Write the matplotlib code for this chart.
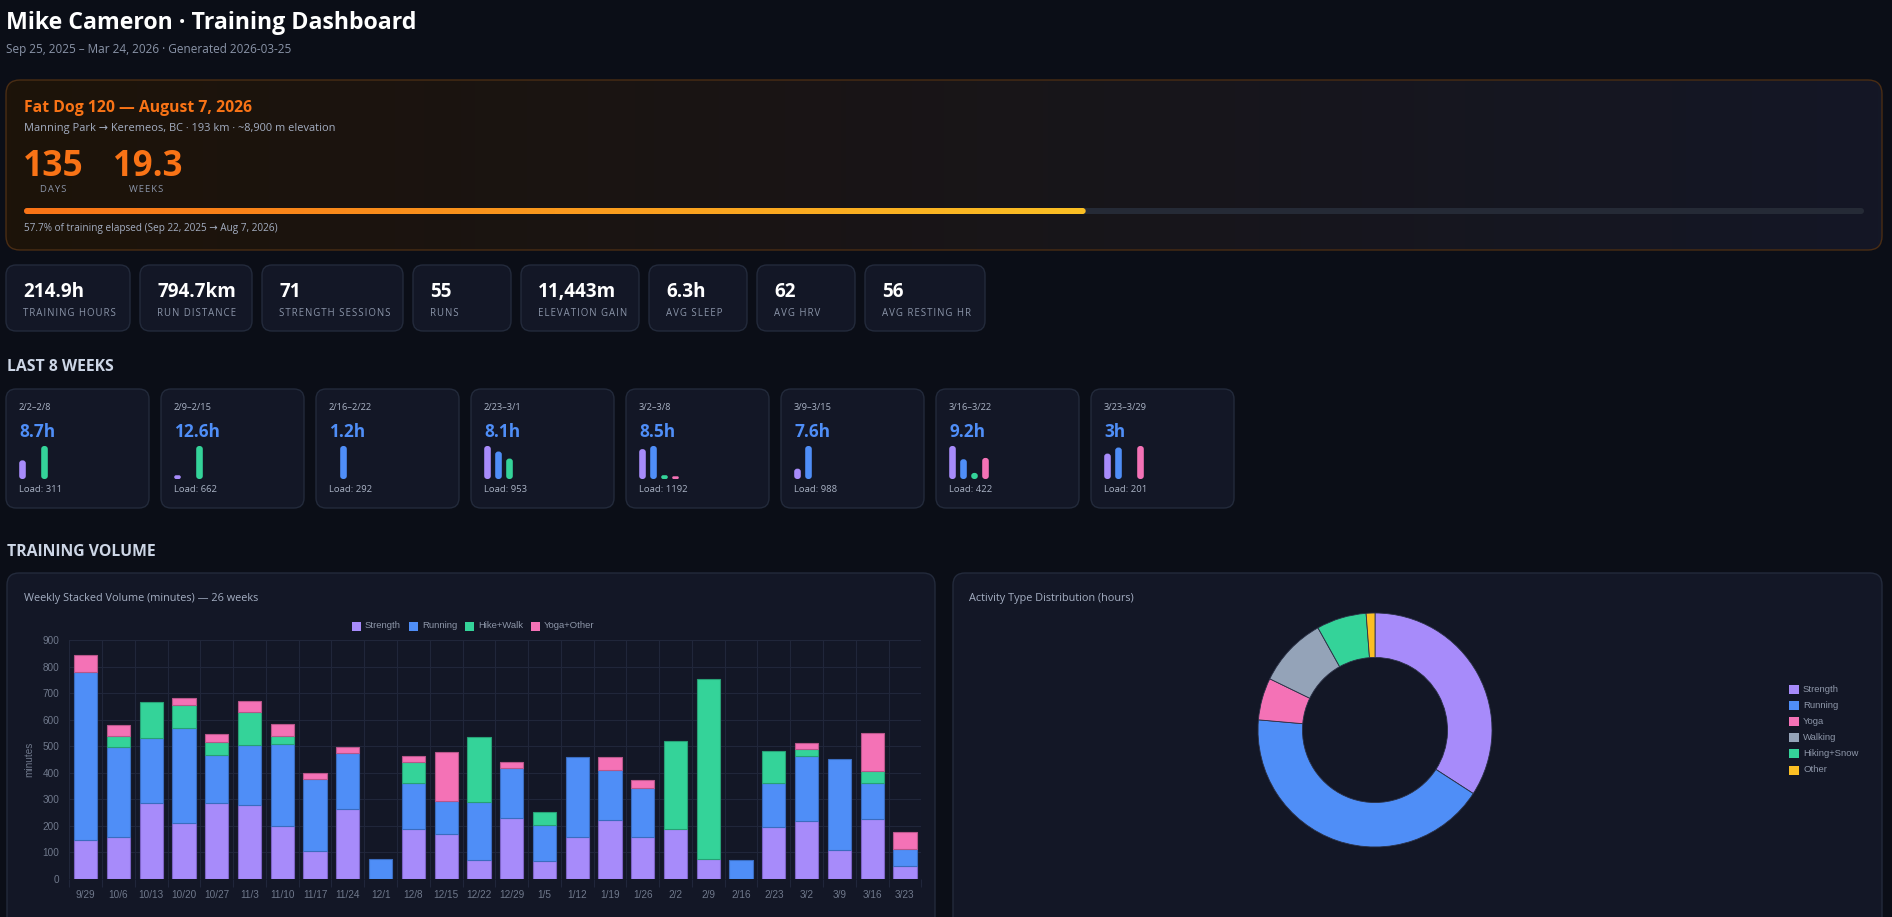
import numpy as np
import matplotlib.pyplot as plt
from matplotlib.patches import FancyBboxPatch, Rectangle
from matplotlib.colors import to_rgb

W, H = 1892, 917

# ---- data ----
weeks = ['9/29', '10/6', '10/13', '10/20', '10/27', '11/3', '11/10', '11/17', '11/24',
         '12/1', '12/8', '12/15', '12/22', '12/29', '1/5', '1/12', '1/19', '1/26',
         '2/2', '2/9', '2/16', '2/23', '3/2', '3/9', '3/16', '3/23']
strength = [147, 159, 287, 210, 285, 277, 201, 104, 262, 0, 189, 168, 70, 231, 69, 159,
            223, 159, 187, 77, 0, 197, 220, 108, 227, 50]
running = [631, 338, 244, 360, 183, 229, 307, 272, 212, 77, 172, 126, 221, 186, 134, 299,
           186, 184, 0, 0, 70, 164, 243, 345, 136, 62]
hike = [0, 41, 135, 87, 49, 123, 29, 0, 0, 0, 79, 0, 242, 0, 48, 0,
        0, 0, 331, 677, 0, 122, 28, 0, 42, 0]
yoga = [66, 43, 0, 26, 30, 40, 45, 24, 22, 0, 25, 183, 0, 22, 0, 0,
        51, 31, 0, 0, 0, 0, 20, 0, 145, 65]

dist_labels = ['Strength', 'Running', 'Yoga', 'Walking', 'Hiking+Snow', 'Other']
dist_hours = [73.3, 90.7, 12.5, 20.8, 14.8, 2.6]

stat_values = ['214.9h', '794.7km', '71', '55', '11,443m', '6.3h', '62', '56']
stat_labels = ['TRAINING HOURS', 'RUN DISTANCE', 'STRENGTH SESSIONS', 'RUNS',
               'ELEVATION GAIN', 'AVG SLEEP', 'AVG HRV', 'AVG RESTING HR']

recent_ranges = ['2/2–2/8', '2/9–2/15', '2/16–2/22', '2/23–3/1',
                 '3/2–3/8', '3/9–3/15', '3/16–3/22', '3/23–3/29']
recent_hours = ['8.7h', '12.6h', '1.2h', '8.1h', '8.5h', '7.6h', '9.2h', '3h']
recent_load = [311, 662, 292, 953, 1192, 988, 422, 201]

days_left = '135'
weeks_left = '19.3'
elapsed = 0.577

# ---- style ----
PAGE = '#0b0e17'
CARD = '#131726'
EDGE = '#232a3b'
MUTED = '#8a94a8'
C_STR, C_RUN, C_HIKE, C_YOGA = '#a78bfa', '#4f8ef7', '#34d399', '#f472b6'
C_WALK, C_OTHER = '#94a3b8', '#fbbf24'
ORANGE = '#f97316'
UI = ['Open Sans', 'DejaVu Sans']
CH = ['Liberation Sans', 'DejaVu Sans']

fig = plt.figure(figsize=(W / 100, H / 100), dpi=100, facecolor=PAGE)
bg = fig.add_axes([0, 0, 1, 1])
bg.set_xlim(0, W)
bg.set_ylim(H, 0)
bg.axis('off')
bg.set_facecolor(PAGE)


def card(x0, y0, x1, y1, fc=CARD, ec=EDGE, r=10, lw=1.0):
    p = FancyBboxPatch((x0, y0), x1 - x0, y1 - y0,
                       boxstyle=f'round,pad=0,rounding_size={r}',
                       fc=fc, ec=ec, lw=lw)
    bg.add_patch(p)
    return p


def txt(x, y, s, size, color='white', weight='normal', ha='left', family=UI, **kw):
    bg.text(x, y, s, fontsize=size, color=color, fontweight=weight, ha=ha,
            va='center', family=family, **kw)


def spaced(s):
    # rough stand-in for css letter-spacing
    return '\u200a'.join(s)


# header
txt(6, 23, 'Mike Cameron · Training Dashboard', 16.7, weight='bold')
txt(6, 50, 'Sep 25, 2025 – Mar 24, 2026 · Generated 2026-03-25', 8.5, color=MUTED)

# countdown card with gradient
cd = card(6, 80, 1882, 250, fc='none', ec='#4a2d14', r=14)
c0 = np.array(to_rgb('#1d1309'))
c1 = np.array(to_rgb('#141726'))
t = np.linspace(0, 1, 400)[None, :, None]
grad = c0 * (1 - t) + c1 * t
im = bg.imshow(grad, extent=[6, 1882, 250, 80], aspect='auto', zorder=0.5)
im.set_clip_path(cd)
cd.set_zorder(0.6)

txt(24, 108, 'Fat Dog 120 — August 7, 2026', 11.3, color=ORANGE, weight='bold')
txt(24, 128, 'Manning Park → Keremeos, BC · 193 km · ~8,900 m elevation', 7.9, color='#a4aec2')
txt(23, 167, days_left, 25.5, color=ORANGE, weight='bold')
txt(113, 167, weeks_left, 25, color=ORANGE, weight='bold')
txt(53, 190, spaced('DAYS'), 6.8, color=MUTED, ha='center')
txt(146, 190, spaced('WEEKS'), 6.8, color=MUTED, ha='center')

# progress bar
bx0, bx1 = 24, 1864
card(bx0, 208, bx1, 214, fc='#252a36', ec='none', r=3)
fx1 = bx0 + elapsed * (bx1 - bx0)
fill = card(bx0, 208, fx1, 214, fc='none', ec='none', r=3)
g0 = np.array(to_rgb(ORANGE))
g1 = np.array(to_rgb('#fbbf24'))
pg = g0 * (1 - t) + g1 * t
im2 = bg.imshow(pg, extent=[bx0, fx1, 214, 208], aspect='auto', zorder=2)
im2.set_clip_path(fill)
txt(24, 228, f'{elapsed * 100:.1f}% of training elapsed (Sep 22, 2025 → Aug 7, 2026)', 7.2,
    color='#a4aec2')

# stat cards
stat_boxes = [(6, 130), (140, 252), (262, 403), (413, 511), (521, 639),
              (649, 747), (757, 855), (865, 985)]
for (x0, x1), v, lab in zip(stat_boxes, stat_values, stat_labels):
    card(x0, 265, x1, 331)
    txt(x0 + 17, 292, v, 13.6, weight='bold')
    txt(x0 + 17, 313, spaced(lab), 6.9, color=MUTED)

# last 8 weeks
txt(7, 367, 'LAST 8 WEEKS', 11.3, color='#cdd6e6', weight='bold')
mini_cols = [C_STR, C_RUN, C_HIKE, C_YOGA]
for i in range(8):
    x0 = 6 + i * 155
    card(x0, 389, x0 + 143, 508)
    txt(x0 + 13, 407, recent_ranges[i], 6.7, color='#aab3c5')
    txt(x0 + 13, 432, recent_hours[i], 12.4, color=C_RUN, weight='bold')
    k = len(weeks) - 8 + i
    vals = [strength[k], running[k], hike[k], yoga[k]]
    mx = max(vals)
    for j, v in enumerate(vals):
        if v <= 0:
            continue
        h = v / mx * 33
        cx = x0 + 16.5 + j * 11
        rr = min(3, h / 2)
        card(cx - 3.3, 479 - h, cx + 3.3, 479, fc=mini_cols[j], ec='none', r=rr)
    txt(x0 + 13, 489, f'Load: {recent_load[i]}', 6.8, color='#aab3c5')

# training volume
txt(7, 552, 'TRAINING VOLUME', 11.3, color='#cdd6e6', weight='bold')
card(7, 573, 935, 940, r=12)
card(953, 573, 1882, 940, r=12)
txt(24, 598, 'Weekly Stacked Volume (minutes) — 26 weeks', 7.8, color='#a4aec2')
txt(969, 598, 'Activity Type Distribution (hours)', 7.8, color='#a4aec2')

# legend of bar chart
leg = [('Strength', C_STR, 352), ('Running', C_RUN, 409),
       ('Hike+Walk', C_HIKE, 465), ('Yoga+Other', C_YOGA, 531)]
for name, col, lx in leg:
    bg.add_patch(Rectangle((lx, 621.5), 9, 9, fc=col, ec='none'))
    txt(lx + 13, 626, name, 6.8, color='#8d96a8', family=CH)

# ---- bar chart ----
pl, pr, pt, pb = 69.3, 921.3, 640, 879
ax = fig.add_axes([pl / W, (H - pb) / H, (pr - pl) / W, (pb - pt) / H])
ax.set_facecolor('none')
x = np.arange(len(weeks))
s = np.array(strength)
r = np.array(running)
hk = np.array(hike)
yg = np.array(yoga)
bw = 0.71
base = np.zeros(len(weeks))
for vals, col, ecol in [(s, C_STR, '#7c63c4'), (r, C_RUN, '#3a6cc0'),
                        (hk, C_HIKE, '#27a075'), (yg, C_YOGA, '#b8568a')]:
    ax.bar(x, vals, bw, bottom=base, color=col, edgecolor=ecol,
           linewidth=np.where(vals > 0, 0.8, 0), zorder=3)
    base = base + vals
ax.set_xlim(-0.5, len(weeks) - 0.5)
ax.set_ylim(0, 900)
ax.set_yticks(np.arange(0, 901, 100))
ax.set_xticks(x)
ax.set_xticklabels(weeks)
ax.set_xticks(np.arange(-0.5, len(weeks), 1), minor=True)
ax.grid(True, which='major', axis='y', color='#20263a', lw=0.8, zorder=0)
ax.grid(True, which='minor', axis='x', color='#20263a', lw=0.8, zorder=0)
ax.tick_params(axis='x', which='major', length=0, pad=8, labelsize=7.2, labelcolor='#6f788b')
ax.tick_params(axis='x', which='minor', length=6, color='#20263a', width=0.8)
ax.tick_params(axis='y', length=0, pad=7, labelsize=7.2, labelcolor='#6f788b')
for lab in ax.get_xticklabels() + ax.get_yticklabels():
    lab.set_family(CH)
for sp in ax.spines.values():
    sp.set_visible(False)
ax.set_ylabel('minutes', color='#6f788b', fontsize=7.2, family=CH, labelpad=6)

# ---- donut ----
cx, cy, rad = 1375, 730, 117
dax = fig.add_axes([(cx - rad) / W, (H - cy - rad) / H, 2 * rad / W, 2 * rad / H])
dcols = [C_STR, C_RUN, C_YOGA, C_WALK, C_HIKE, C_OTHER]
dax.pie(dist_hours, colors=dcols, startangle=90, counterclock=False,
        wedgeprops=dict(width=0.38, edgecolor='#2a3045', linewidth=0.6))
dax.set_xlim(-1, 1)
dax.set_ylim(-1, 1)
dax.set_aspect('auto')

for i, (name, col) in enumerate(zip(dist_labels, dcols)):
    ly = 689 + i * 16.2
    bg.add_patch(Rectangle((1788.5, ly - 4.5), 10, 9, fc=col, ec='none'))
    txt(1803, ly, name, 6.8, color='#8d96a8', family=CH)

fig.savefig('out.png', dpi=100, facecolor=PAGE)
